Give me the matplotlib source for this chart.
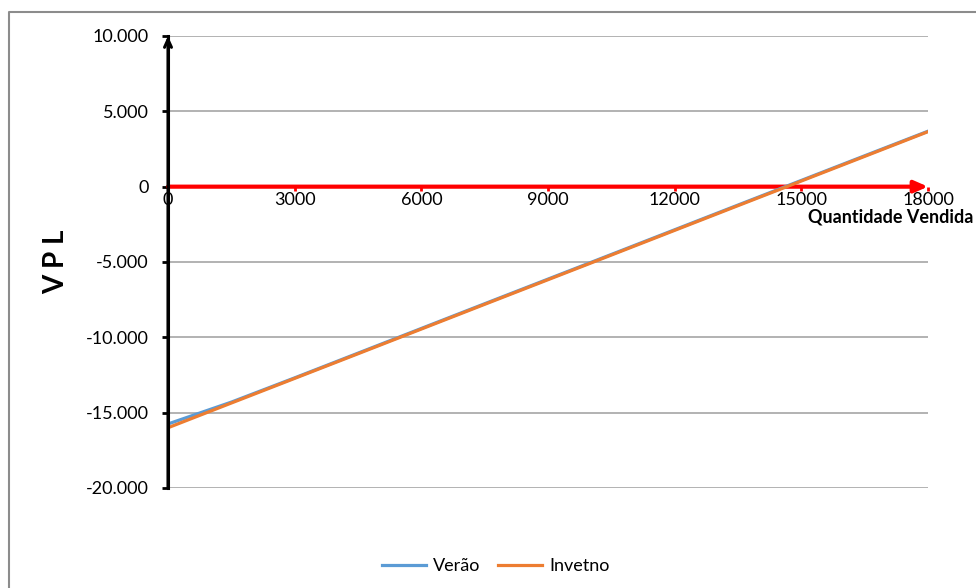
import numpy as np
import matplotlib.pyplot as plt
from matplotlib.ticker import FuncFormatter
from matplotlib.lines import Line2D

plt.rcParams['font.family'] = ['Lato', 'DejaVu Sans']

# VPL por quantidade vendida
quantidade = [0, 1500, 3000, 4500, 6000, 7500, 9000, 10500, 12000, 13500, 15000, 16500, 18000]
vpl_verao = [-15750, -14300, -12690, -11050, -9410, -7770, -6135, -4500, -2860, -1220, 415, 2050, 3680]
vpl_inverno = [-16000, -14360, -12725, -11090, -9450, -7810, -6175, -4540, -2900, -1260, 375, 2010, 3650]

xticks = [0, 3000, 6000, 9000, 12000, 15000, 18000]
yticks = [-20000, -15000, -10000, -5000, 0, 5000, 10000]

fig = plt.figure(figsize=(9.76, 5.88), dpi=100)
ax = fig.add_axes([168/976, 1 - 488/588, 760/976, 452/588])

ax.set_xlim(0, 18000)
ax.set_ylim(-20000, 10000)
ax.set_yticks(yticks)
ax.set_xticks(xticks)
ax.yaxis.set_major_formatter(FuncFormatter(lambda v, p: f'{int(v):,}'.replace(',', '.')))

# grade horizontal
for y in yticks:
    if y != 0:
        ax.axhline(y, color='#a6a6a6', lw=1.2, zorder=1)

ax.plot(quantidade, vpl_verao, color='#5b9bd5', lw=2.3, label='Verão', zorder=3)
ax.plot(quantidade, vpl_inverno, color='#ed7d31', lw=2.3, label='Invetno', zorder=4)

# eixos: y preto e x vermelho em zero
for s in ['top', 'right']:
    ax.spines[s].set_visible(False)
ax.spines['left'].set_color('black')
ax.spines['left'].set_linewidth(2.2)
ax.spines['left'].set_zorder(5)
ax.spines['bottom'].set_position(('data', 0))
ax.spines['bottom'].set_visible(False)

ax.annotate('', xy=(18000, 0), xytext=(0, 0),
            arrowprops=dict(arrowstyle='-|>,head_length=0.8,head_width=0.35', color='red', lw=3, shrinkA=0, shrinkB=0),
            zorder=2)
ax.annotate('', xy=(0, 10000), xytext=(0, -20000),
            arrowprops=dict(arrowstyle='->,head_length=0.55,head_width=0.25', color='black', lw=2.2, shrinkA=0, shrinkB=0),
            zorder=6)

ax.tick_params(axis='y', direction='out', length=4, width=2, color='black', labelsize=13, pad=10)
ax.tick_params(axis='x', direction='out', length=3, width=2, color='red', labelsize=13, pad=1)

fig.text(973/976, 1 - 217/588, 'Quantidade Vendida', ha='right', va='center',
         fontsize=13, fontweight='bold')
fig.text(56/976, 1 - 262/588, 'V P L', rotation=90, ha='center', va='center',
         fontsize=20, fontweight='bold')

fig.legend(loc='center', bbox_to_anchor=(0.508, 1 - 566/588), ncol=2, frameon=False,
           fontsize=13, handlelength=2.4, columnspacing=1.0, handletextpad=0.4)

# moldura externa
fig.add_artist(Line2D([9/976, 9/976, 1], [0, 1 - 12/588, 1 - 12/588],
                      transform=fig.transFigure, color='#8c8c8c', lw=1.5))

fig.savefig('out.png', dpi=100)
